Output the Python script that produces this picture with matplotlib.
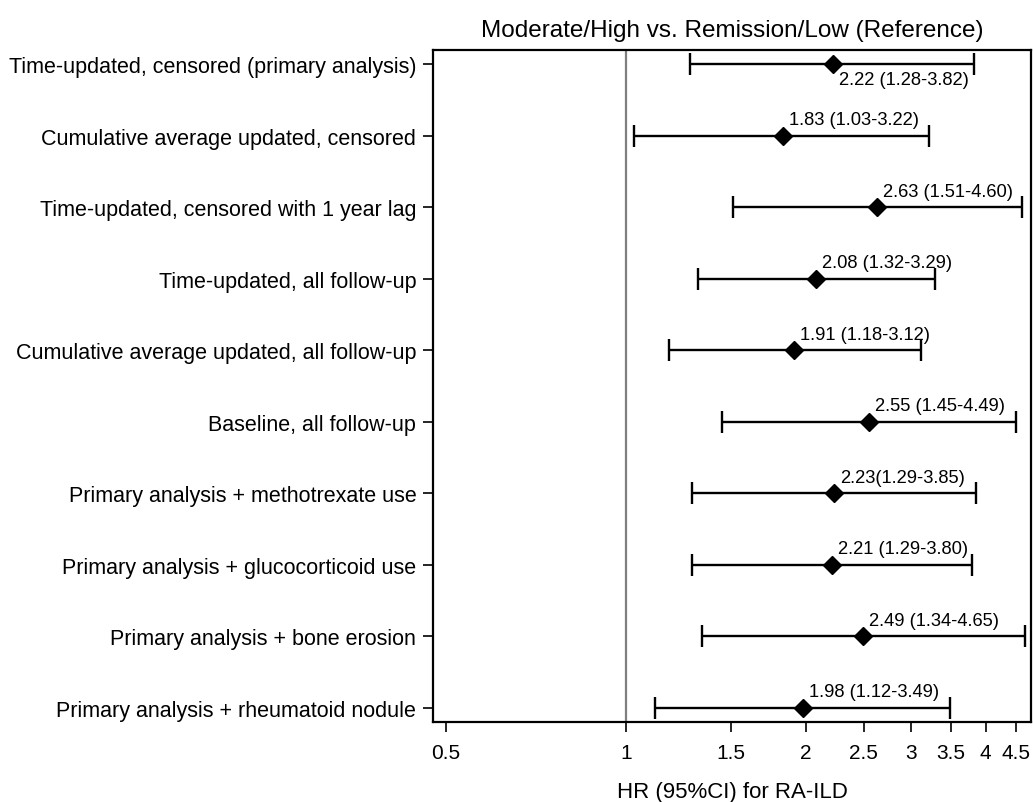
import matplotlib.pyplot as plt

plt.rcParams['font.family'] = ['Liberation Sans', 'DejaVu Sans']

# Sensitivity analyses: hazard ratios with 95% CI
analyses = [
    "Time-updated, censored (primary analysis)",
    "Cumulative average updated, censored",
    "Time-updated, censored with 1 year lag",
    "Time-updated, all follow-up",
    "Cumulative average updated, all follow-up",
    "Baseline, all follow-up",
    "Primary analysis + methotrexate use",
    "Primary analysis + glucocorticoid use",
    "Primary analysis + bone erosion",
    "Primary analysis + rheumatoid nodule",
]
hr = [2.22, 1.83, 2.63, 2.08, 1.91, 2.55, 2.23, 2.21, 2.49, 1.98]
ci_low = [1.28, 1.03, 1.51, 1.32, 1.18, 1.45, 1.29, 1.29, 1.34, 1.12]
ci_high = [3.82, 3.22, 4.60, 3.29, 3.12, 4.49, 3.85, 3.80, 4.65, 3.49]
label_sep = [" ", " ", " ", " ", " ", " ", "", " ", " ", " "]
xticks = [0.5, 1, 1.5, 2, 2.5, 3, 3.5, 4, 4.5]

fig = plt.figure(figsize=(10.33, 8.03), dpi=100)
ax = fig.add_axes([0.4192, 0.0996, 0.5789, 0.8369])

ypos = list(range(1, len(analyses) + 1))
err = [[h - l for h, l in zip(hr, ci_low)], [u - h for h, u in zip(hr, ci_high)]]

ax.axvline(1, color='#7f7f7f', lw=1.6, zorder=1)
ax.errorbar(hr, ypos, xerr=err, fmt='D', color='black', ms=9,
            elinewidth=1.7, capsize=8, capthick=1.7, zorder=3)

for i, y in enumerate(ypos):
    txt = f"{hr[i]:.2f}{label_sep[i]}({ci_low[i]:.2f}-{ci_high[i]:.2f})"
    dy = -11 if i == 0 else 11.5
    ax.annotate(txt, (hr[i], y), xytext=(4.5, dy), textcoords='offset points',
                ha='left', va='center', fontsize=13.2)

ax.set_xscale('log')
ax.set_xlim(0.4757, 4.762)
ax.set_ylim(10.2, 0.8)
ax.set_xticks(xticks)
ax.set_xticklabels([f"{t:g}" for t in xticks])
ax.minorticks_off()
ax.set_yticks(ypos)
ax.set_yticklabels(analyses)
ax.tick_params(axis='both', labelsize=15, length=7, width=1.2, direction='out')
ax.tick_params(axis='y', labelsize=15.5, pad=5)
ax.tick_params(axis='x', pad=8)
for s in ax.spines.values():
    s.set_linewidth(1.6)

ax.set_xlabel("HR (95%CI) for RA-ILD", fontsize=16, labelpad=14)
ax.set_title("Moderate/High vs. Remission/Low (Reference)", fontsize=17.5, pad=10)

fig.savefig("out.png", dpi=100)
